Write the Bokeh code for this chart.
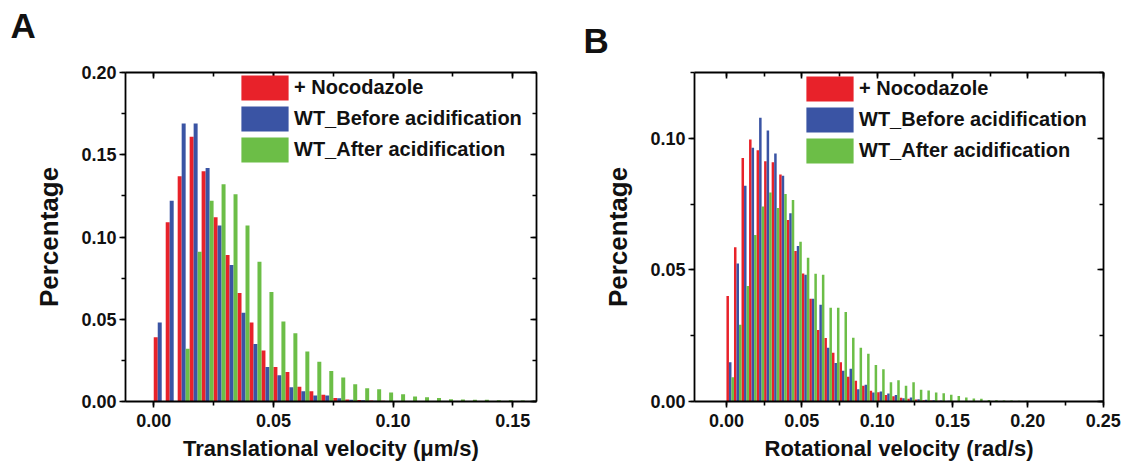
from bokeh.plotting import figure
from bokeh.layouts import row
from bokeh.models import (Range1d, LinearAxis, SingleIntervalTicker, NumeralTickFormatter,
                          CustomJSTickFormatter, Legend, LegendItem, Title, ColumnDataSource)
from bokeh.embed import file_html
from bokeh.resources import INLINE

# ---------------- data ----------------
series_names = ["+ Nocodazole", "WT_Before acidification", "WT_After acidification"]
bin_width = 0.005

# Panel A: translational velocity histogram (bin starts, um/s)
a_bins = [0.000, 0.005, 0.010, 0.015, 0.020, 0.025, 0.030, 0.035, 0.040, 0.045,
          0.050, 0.055, 0.060, 0.065, 0.070, 0.075, 0.080, 0.085, 0.090, 0.095,
          0.100, 0.105, 0.110, 0.115, 0.120, 0.125, 0.130, 0.135, 0.140, 0.145,
          0.150, 0.155]
a_noco = [0.039, 0.109, 0.137, 0.161, 0.140, 0.112, 0.089, 0.066, 0.048, 0.031,
          0.021, 0.018, 0.009, 0.0063, 0.0041, 0.0022, 0.0012, 0.0009, 0.0006, 0.0004,
          0.0003, 0.0002, 0.0001, 0.0, 0.0, 0.0, 0.0, 0.0, 0.0, 0.0,
          0.0, 0.0]
a_before = [0.048, 0.122, 0.169, 0.169, 0.142, 0.107, 0.083, 0.054, 0.035, 0.021,
            0.016, 0.0087, 0.0063, 0.0036, 0.0036, 0.0020, 0.0010, 0.0007, 0.0004, 0.0003,
            0.0002, 0.0001, 0.0, 0.0, 0.0, 0.0, 0.0, 0.0, 0.0, 0.0,
            0.0, 0.0]
a_after = [0.0, 0.0, 0.032, 0.091, 0.122, 0.132, 0.126, 0.107, 0.085, 0.0665,
           0.0486, 0.0415, 0.0304, 0.0242, 0.0186, 0.0146, 0.0105, 0.0080, 0.0074, 0.0054,
           0.0044, 0.0030, 0.0026, 0.0021, 0.0013, 0.0012, 0.0010, 0.0010, 0.0008, 0.0007,
           0.0006, 0.0005]

# Panel B: rotational velocity histogram (bin starts, rad/s)
b_bins = [0.000, 0.005, 0.010, 0.015, 0.020, 0.025, 0.030, 0.035, 0.040, 0.045,
          0.050, 0.055, 0.060, 0.065, 0.070, 0.075, 0.080, 0.085, 0.090, 0.095,
          0.100, 0.105, 0.110, 0.115, 0.120, 0.125, 0.130, 0.135, 0.140, 0.145,
          0.150, 0.155, 0.160, 0.165, 0.170, 0.175, 0.180, 0.185, 0.190, 0.195,
          0.200, 0.205, 0.210, 0.215, 0.220]
b_noco = [0.0401, 0.0586, 0.0925, 0.0995, 0.0955, 0.0913, 0.0909, 0.0862, 0.0690, 0.0572,
          0.0486, 0.0390, 0.0272, 0.0241, 0.0185, 0.0149, 0.0094, 0.0079, 0.0060, 0.0041,
          0.0035, 0.0025, 0.0020, 0.0014, 0.0010, 0.0008, 0.0005, 0.0004, 0.0003, 0.0002,
          0.0002, 0.0001, 0.0001, 0.0, 0.0, 0.0, 0.0, 0.0, 0.0, 0.0,
          0.0, 0.0, 0.0, 0.0, 0.0]
b_before = [0.0149, 0.0524, 0.0820, 0.0964, 0.1078, 0.1030, 0.0942, 0.0858, 0.0715, 0.0591,
            0.0482, 0.0390, 0.0368, 0.0204, 0.0146, 0.0117, 0.0124, 0.0047, 0.0064, 0.0034,
            0.0038, 0.0030, 0.0025, 0.0012, 0.0015, 0.0009, 0.0007, 0.0005, 0.0004, 0.0003,
            0.0002, 0.0002, 0.0001, 0.0, 0.0, 0.0, 0.0, 0.0, 0.0, 0.0,
            0.0, 0.0, 0.0, 0.0, 0.0]
b_after = [0.0092, 0.0292, 0.0439, 0.0633, 0.0741, 0.0794, 0.0735, 0.0788, 0.0766, 0.0607,
           0.0546, 0.0485, 0.0482, 0.0356, 0.0356, 0.0340, 0.0242, 0.0204, 0.0181, 0.0139,
           0.0123, 0.0073, 0.0081, 0.0060, 0.0073, 0.0045, 0.0042, 0.0034, 0.0031, 0.0026,
           0.0021, 0.0015, 0.0011, 0.0010, 0.0006, 0.0005, 0.0004, 0.0004, 0.0003, 0.0003,
           0.0002, 0.0002, 0.0002, 0.0001, 0.0001]

# ---------------- style ----------------
FONT = "Liberation Sans"
COLORS = ["#E8222A", "#3A54A4", "#6CBE47"]
FRAME_H = 329


def style_axis(ax, inward=False, show_labels=True, standoff=4):
    ax.axis_line_color = "black"
    ax.axis_line_width = 1.8
    ax.major_tick_line_color = "black"
    ax.minor_tick_line_color = "black"
    ax.major_tick_line_width = 1.6
    ax.minor_tick_line_width = 1.6
    if inward:
        ax.major_tick_in, ax.major_tick_out = 6, 0
        ax.minor_tick_in, ax.minor_tick_out = 4, 0
    else:
        ax.major_tick_in, ax.major_tick_out = 0, 6
        ax.minor_tick_in, ax.minor_tick_out = 0, 4
    ax.major_label_text_font = FONT
    ax.major_label_text_font_style = "bold"
    ax.major_label_text_color = "#111111"
    ax.major_label_text_font_size = "18px"
    ax.major_label_standoff = standoff
    if not show_labels:
        ax.formatter = CustomJSTickFormatter(code="return ''")
        ax.major_label_text_font_size = "8px"
        ax.major_label_standoff = 0
        ax.axis_label = None
    ax.axis_label_text_font = FONT
    ax.axis_label_text_font_style = "bold"
    ax.axis_label_text_color = "#111111"


def make_panel(bins, vals, xr, yr, y_int, xlabel, letter, letter_offset, spacer,
               border_left, frame_w, border_right, legend_loc):
    p = figure(frame_width=frame_w, frame_height=FRAME_H,
               x_range=Range1d(*xr), y_range=Range1d(*yr),
               output_backend="svg", toolbar_location=None,
               min_border_left=border_left, min_border_right=border_right,
               min_border_top=72, min_border_bottom=72)
    p.title = Title(text=letter, align="left", offset=letter_offset, standoff=0,
                    text_font=FONT, text_font_style="bold", text_font_size="35px",
                    text_color="#111111")
    p.xgrid.visible = False
    p.ygrid.visible = False
    p.outline_line_color = None
    p.background_fill_color = "white"
    p.border_fill_color = "white"

    third = bin_width / 3.0
    renderers = []
    for i, (name, v) in enumerate(zip(series_names, vals)):
        src = ColumnDataSource(dict(x=[b + third * (i + 0.5) for b in bins], top=v))
        r = p.vbar(x="x", top="top", bottom=0, width=third, source=src,
                   fill_color=COLORS[i], line_color=None)
        renderers.append(r)

    # main axes
    p.xaxis.ticker = SingleIntervalTicker(interval=0.05, num_minor_ticks=2)
    p.yaxis.ticker = SingleIntervalTicker(interval=y_int, num_minor_ticks=2)
    p.xaxis.formatter = NumeralTickFormatter(format="0.00")
    p.yaxis.formatter = NumeralTickFormatter(format="0.00")
    for ax in p.xaxis:
        style_axis(ax, standoff=6)
        ax.axis_label = xlabel
        ax.axis_label_text_font_size = "22px"
        ax.axis_label_standoff = 6
    for ax in p.yaxis:
        style_axis(ax, standoff=3)
        ax.axis_label = "Percentage"
        ax.axis_label_text_font_size = "26px"
        ax.axis_label_standoff = 14

    # mirror axes (top / right) with inward ticks
    top = LinearAxis(ticker=SingleIntervalTicker(interval=0.05, num_minor_ticks=2))
    style_axis(top, inward=True, show_labels=False)
    p.add_layout(top, "above")
    # blank spacer between the top axis and the panel letter
    p.add_layout(Title(text=" ", standoff=spacer[1], text_font=FONT,
                       text_font_size=spacer[0]), "above")
    right = LinearAxis(ticker=SingleIntervalTicker(interval=y_int, num_minor_ticks=2))
    style_axis(right, inward=True, show_labels=False)
    p.add_layout(right, "right")

    legend = Legend(items=[LegendItem(label=n, renderers=[r]) for n, r in zip(series_names, renderers)],
                    location=legend_loc, orientation="vertical",
                    glyph_width=59, glyph_height=31, spacing=-6,
                    padding=0, margin=0, label_standoff=0, label_height=25,
                    border_line_color=None, background_fill_alpha=0,
                    label_text_font=FONT, label_text_font_style="bold",
                    label_text_font_size="20px", label_text_color="#111111")
    p.add_layout(legend)
    return p


pA = make_panel(a_bins, [a_noco, a_before, a_after], (-0.0118, 0.1599), (0.0, 0.20), 0.05,
                "Translational velocity (\u03bcm/s)", "A", -115, ("18px", 6),
                125, 411, 28, (110, 236))
pB = make_panel(b_bins, [b_noco, b_before, b_after], (-0.0212, 0.2502), (0.0, 0.125), 0.05,
                "Rotational velocity (rad/s)", "B", -111, ("6px", 5),
                130, 409, 25, (106, 235))

layout = row(pA, pB, spacing=0)
open("out.html", "w").write(file_html(layout, INLINE))
